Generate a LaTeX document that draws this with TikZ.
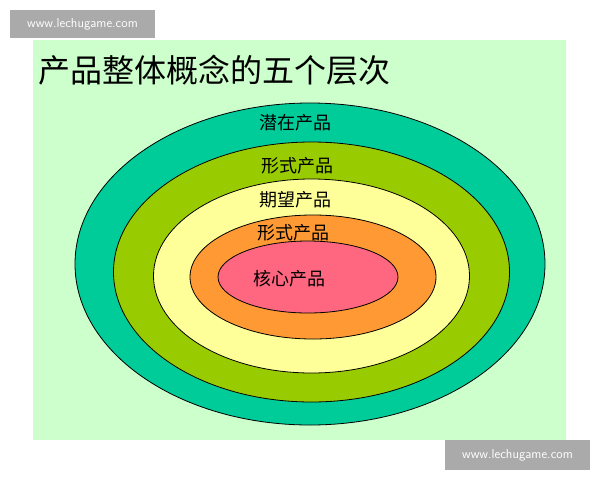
\documentclass[tikz,border=0pt]{standalone}
\usepackage{fontspec}
\newfontfamily\cjk{Noto Sans CJK SC}
\definecolor{bgGreen}{RGB}{204,255,204}
\definecolor{layerA}{RGB}{0,204,153}
\definecolor{layerB}{RGB}{153,204,0}
\definecolor{layerC}{RGB}{255,255,153}
\definecolor{layerD}{RGB}{255,153,51}
\definecolor{layerE}{RGB}{255,102,128}
\definecolor{markGray}{RGB}{170,170,170}
\tikzset{
	layer/.style={draw=black, line width=0.8pt},
	layertext/.style={font=\cjk\fontsize{18}{18}\selectfont},
	watermark/.style={fill=markGray, text=white, font=\fontsize{13}{13}\selectfont\sffamily}
}

\begin{document}
\begin{tikzpicture}[x=1pt, y=-1pt]
	\useasboundingbox (0,0) rectangle (600,480);
	\fill[white] (0,0) rectangle (600,480);
	\fill[bgGreen] (33,40) rectangle (566,440);
	% watermarks
	\node[watermark, minimum width=145pt, minimum height=28pt] (markTop) at (82.5,24) {www.lechugame.com};
	\node[watermark, minimum width=145pt, minimum height=30pt] (markBottom) at (517.5,455) {www.lechugame.com};
	\node[anchor=west, font=\cjk\fontsize{32}{32}\selectfont] (title) at (35,70) {产品整体概念的五个层次};
	% layers
	\filldraw[layer, fill=layerA] (310,264) ellipse [x radius=235, y radius=161];
	\filldraw[layer, fill=layerB] (311.5,272) ellipse [x radius=198, y radius=130];
	\filldraw[layer, fill=layerC] (311.5,276) ellipse [x radius=158, y radius=97];
	\filldraw[layer, fill=layerD] (313,277) ellipse [x radius=123, y radius=62];
	\filldraw[layer, fill=layerE] (308,277) ellipse [x radius=90, y radius=36];
	\node[layertext] (potential) at (295,123) {潜在产品};
	\node[layertext] (formOuter) at (297,166) {形式产品};
	\node[layertext] (expected) at (295,200) {期望产品};
	\node[layertext] (formInner) at (293,233) {形式产品};
	\node[layertext] (core) at (289,279) {核心产品};
\end{tikzpicture}
\end{document}
